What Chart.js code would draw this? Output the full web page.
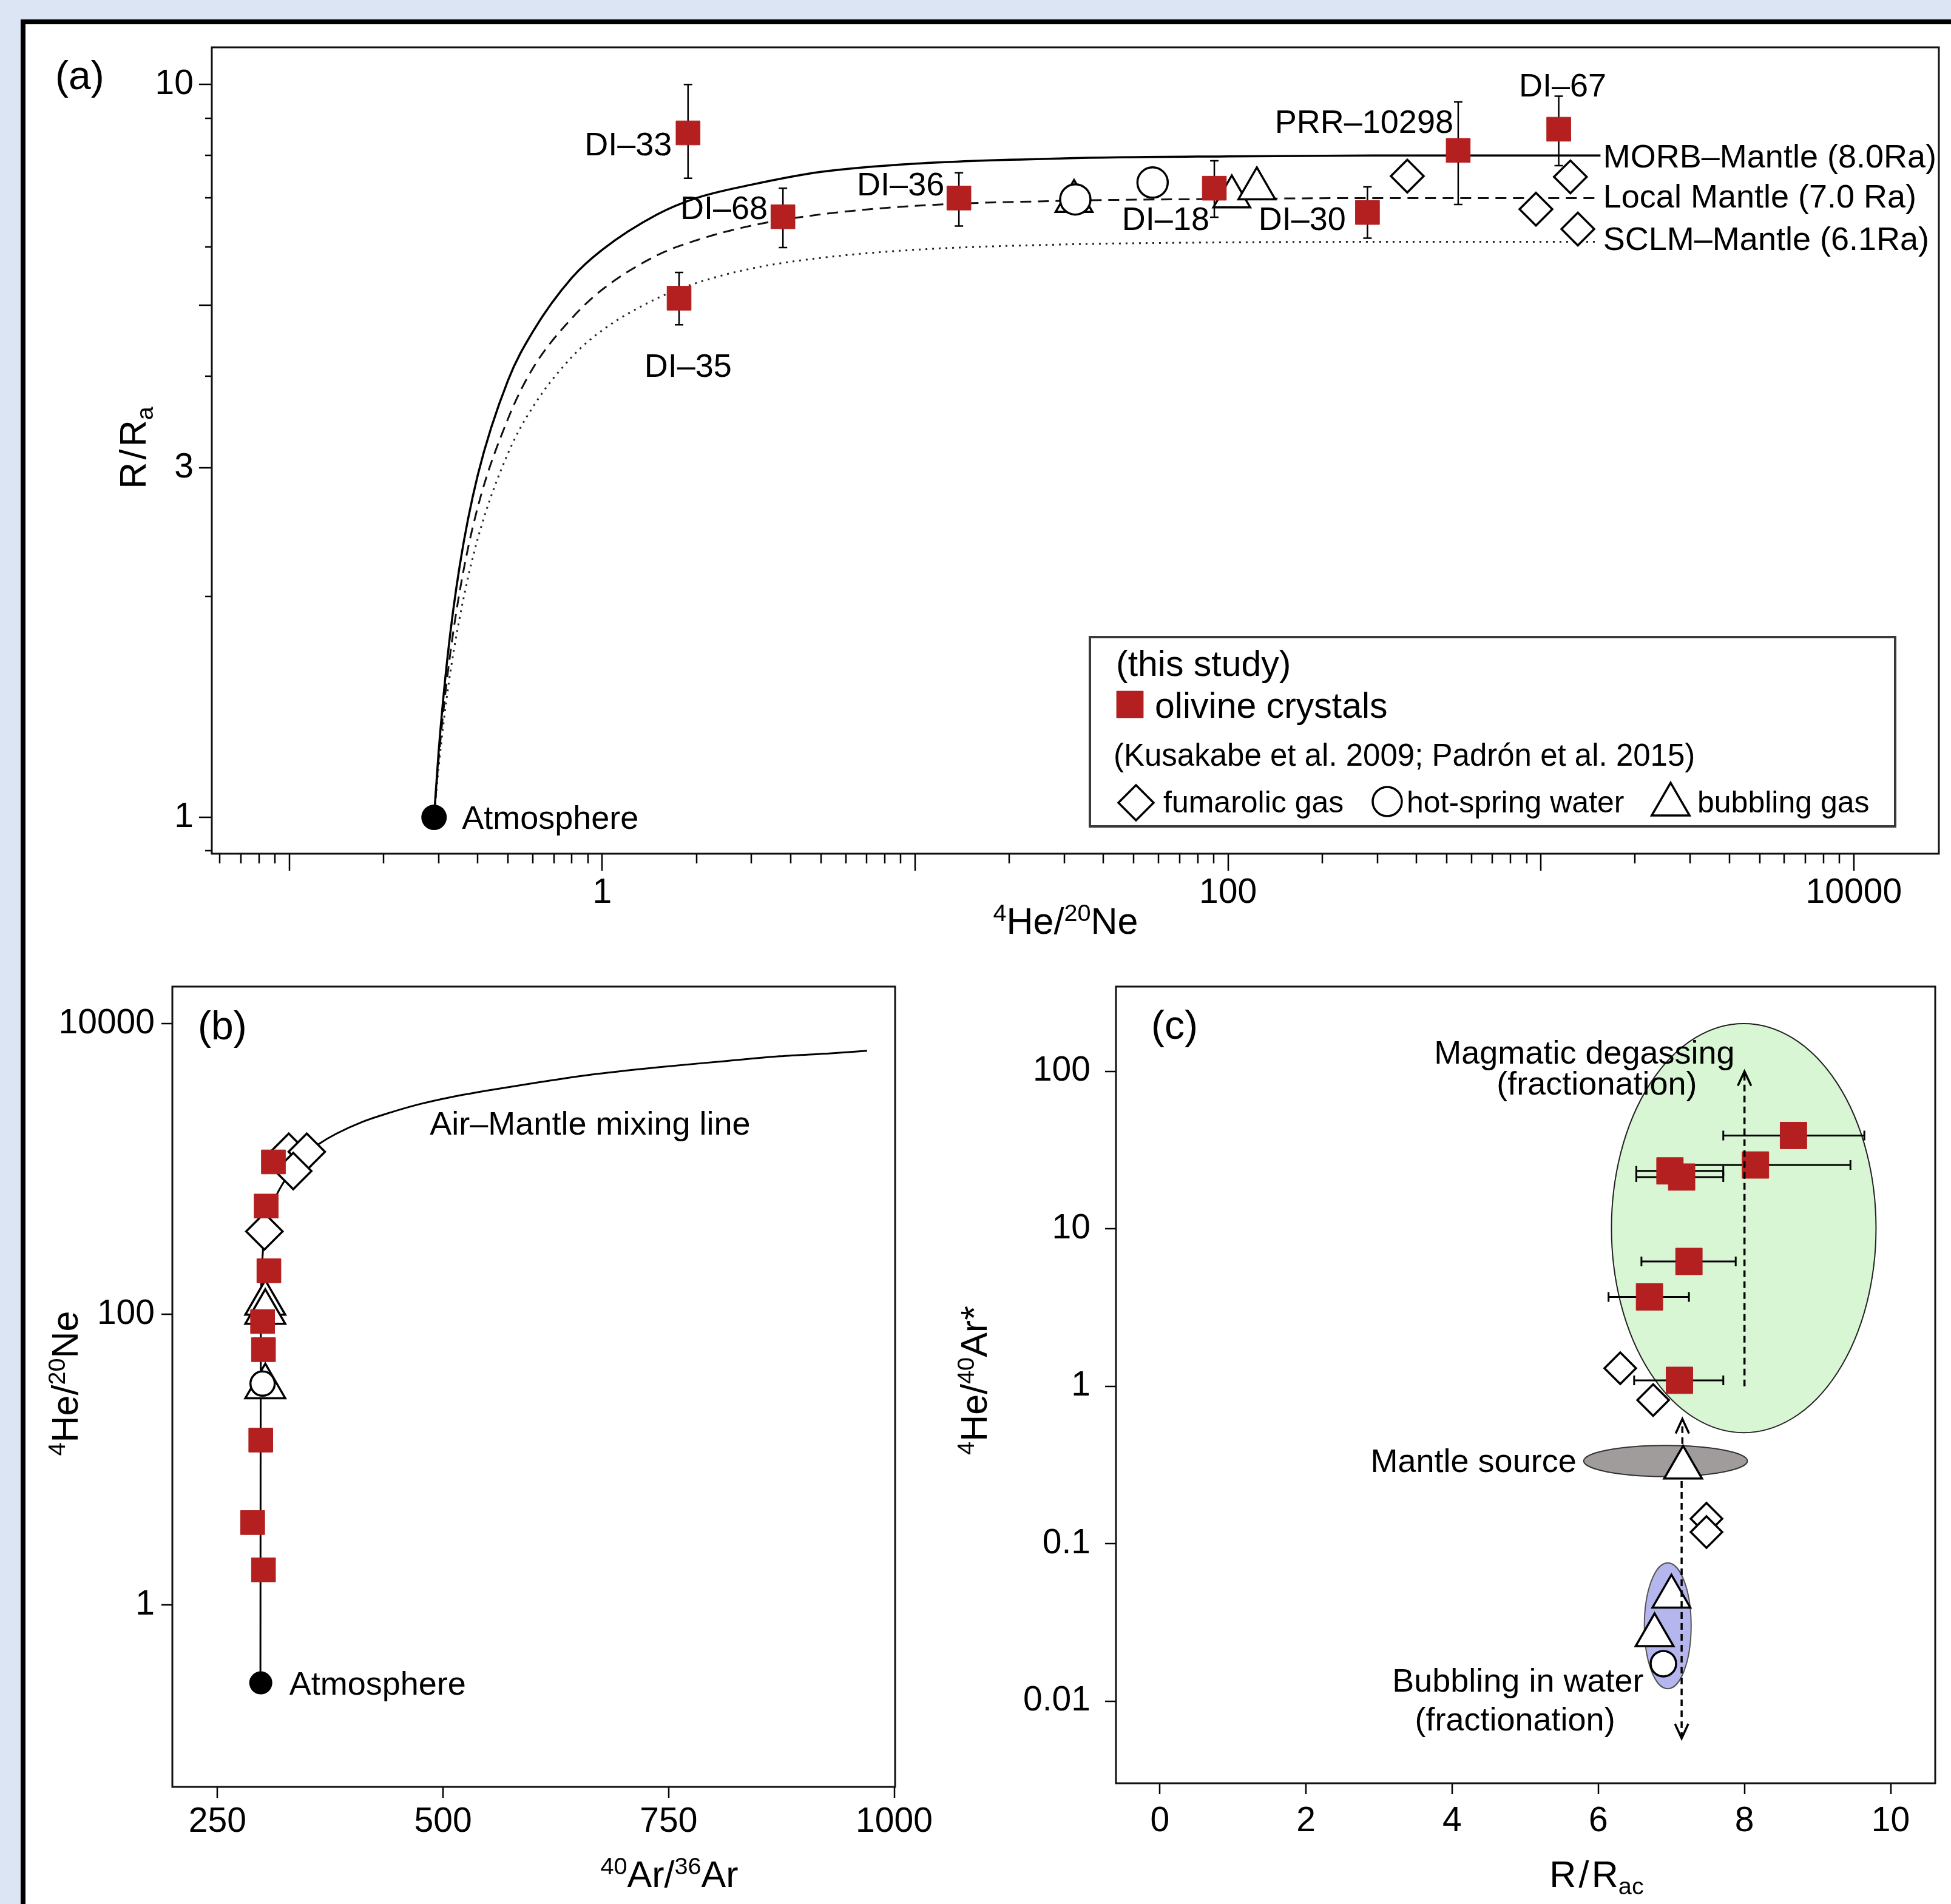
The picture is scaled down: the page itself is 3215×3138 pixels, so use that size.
<!DOCTYPE html>
<html><head><meta charset="utf-8">
<script src="https://cdn.jsdelivr.net/npm/chart.js@4/dist/chart.umd.min.js"></script>
<style>
html,body{margin:0;padding:0;background:#dce5f4;width:3215px;height:3138px;overflow:hidden;}
#frame{position:absolute;left:34px;top:32px;width:3300px;height:3300px;background:#fff;border-left:8px solid #000;border-top:8px solid #000;}
canvas{position:absolute;}
</style></head><body>
<div id="frame"></div>
<canvas id="ca" width="3175" height="1560" style="left:40px;top:40px;width:3175px;height:1560px"></canvas>
<canvas id="cb" width="1520" height="1538" style="left:40px;top:1600px;width:1520px;height:1538px"></canvas>
<canvas id="cc" width="1655" height="1538" style="left:1560px;top:1600px;width:1655px;height:1538px"></canvas>
<script>
// ================= DATA =================
// ---- Panel (a): 4He/20Ne vs R/Ra ----
const olivineA_heNe = [1.88, 3.78, 1.76, 13.8, 90.4, 279, 544, 1140];
const olivineA_ra   = [8.59, 6.60, 5.11, 7.00, 7.22, 6.69, 8.13, 8.69];
const olivineA_lo   = [7.45, 5.99, 4.70, 6.41, 6.59, 6.17, 6.86, 7.75];
const olivineA_hi   = [10.0, 7.22, 5.54, 7.58, 7.87, 7.25, 9.47, 9.64];
const olivineA_names = ['DI–33', 'DI–68', 'DI–35', 'DI–36', 'DI–18', 'DI–30', 'PRR–10298', 'DI–67'];
const fumarolicA_heNe = [374, 1242, 964, 1312];
const fumarolicA_ra   = [7.50, 7.48, 6.76, 6.35];
const hotspringA_heNe = [32.5, 57.4];
const hotspringA_ra   = [6.97, 7.35];
const bubblingA_heNe  = [32.2, 102.8, 123.6];
const bubblingA_ra    = [6.93, 7.03, 7.21];
const atmosphere_heNe = 0.29, atmosphere_ra = 1, atmosphere_arAr = 298;
// mixing curves
const mixA_heNe   = [0.29, 0.30, 0.32, 0.35, 0.40, 0.50, 0.60, 0.80, 1.0, 1.5, 2, 3, 5, 10, 30, 100, 300, 1550];
const morbA_ra    = [1.0, 1.23, 1.65, 2.2, 2.93, 3.95, 4.6, 5.45, 5.95, 6.65, 7.0, 7.3, 7.6, 7.8, 7.93, 7.98, 8.0, 8.0];
const localA_ra   = [1.0, 1.2, 1.56, 2.03, 2.65, 3.5, 4.1, 4.8, 5.25, 5.85, 6.13, 6.42, 6.65, 6.83, 6.94, 6.98, 7.0, 7.0];
const sclmA_heNe  = [0.29, 0.30, 0.32, 0.35, 0.40, 0.50, 0.60, 0.80, 1.0, 1.5, 2, 3, 5, 10, 30, 100, 300, 1500];
const sclmA_ra    = [1.0, 1.17, 1.48, 1.87, 2.4, 3.14, 3.63, 4.25, 4.62, 5.11, 5.36, 5.61, 5.8, 5.95, 6.05, 6.09, 6.1, 6.1];
const xTickLabelsA = [1, 100, 10000];
const yTickLabelsA = [1, 3, 10];

// ---- Panel (b): 40Ar/36Ar vs 4He/20Ne ----
const olivineB_arAr = [312, 304, 307, 300, 301, 298, 289, 301];
const olivineB_heNe = [1117, 555, 199, 89, 57, 13.6, 3.68, 1.74];
const fumarolicB_arAr = [329, 349, 334, 302];
const fumarolicB_heNe = [1313, 1313, 967, 371];
const hotspringB_arAr = [300];
const hotspringB_heNe = [33.3];
const bubblingB_arAr = [303, 303, 303];
const bubblingB_heNe = [119, 103, 31.7];
const mixB_arAr = [297.6, 297.8, 298.1, 299, 300, 302.5, 308, 316, 328, 342, 362, 382, 410, 442, 475, 508, 560, 607, 670, 740, 810, 873, 930, 970];
const mixB_heNe = [0.29, 10, 100, 180, 250, 380, 520, 672, 900, 1194, 1480, 1750, 2100, 2448, 2800, 3112, 3550, 3953, 4500, 5020, 5500, 5960, 6250, 6500];
const xTickLabelsB = [250, 500, 750, 1000];
const yTickLabelsB = [1, 100, 10000];

// ---- Panel (c): R/Rac vs 4He/40Ar* ----
const olivineC_rac  = [8.67, 8.15, 6.98, 7.14, 7.24, 6.70, 7.11];
const olivineC_heAr = [39.1, 25.4, 23.3, 21.3, 6.2, 3.69, 1.09];
const olivineC_lo   = [7.71, 6.85, 6.52, 6.52, 6.59, 6.14, 6.49];
const olivineC_hi   = [9.64, 9.45, 7.71, 7.71, 7.88, 7.24, 7.71];
const fumarolicC_rac  = [6.30, 6.75, 7.48, 7.48];
const fumarolicC_heAr = [1.30, 0.817, 0.144, 0.1186];
const bubblingC_rac  = [7.16, 7.00, 6.77];
const bubblingC_heAr = [0.304, 0.0461, 0.0262];
const hotspringC_rac  = [6.89];
const hotspringC_heAr = [0.0173];
const magmaticField_rac = [6.18, 9.80], magmaticField_heAr = [0.507, 201];
const mantleSource_rac  = [5.80, 8.04], mantleSource_heAr  = [0.267, 0.421];
const bubblingField_rac = [6.63, 7.27], bubblingField_heAr = [0.01198, 0.0756];
const arrowsC_rac  = [8.0, 7.15, 7.14];
const arrowsC_from = [1.0, 0.43, 0.25];
const arrowsC_to   = [100, 0.62, 0.0058];
const xTickLabelsC = [0, 2, 4, 6, 8, 10];
const yTickLabelsC = [0.01, 0.1, 1, 10, 100];

// ================= HELPERS =================
const FONT = '"Liberation Sans", Arial, Helvetica, sans-serif';
const RED = '#b41f1f';
const pts = (xs, ys) => xs.map((x, i) => ({x: x, y: ys[i]}));

function drawRich(ctx, parts, x, y, size, align, rot) {
  ctx.save(); ctx.translate(x, y); if (rot) ctx.rotate(rot);
  const items = parts.map(p => typeof p === 'string' ? {t: p} : p);
  let total = 0;
  const ws = items.map(p => {
    if (p.gap) { total += p.gap * size; return p.gap * size; }
    const fs = (p.sup || p.sub) ? size * 0.65 : size;
    ctx.font = fs + 'px ' + FONT;
    const w = ctx.measureText(p.t).width; total += w; return w;
  });
  let cx = align === 'center' ? -total / 2 : align === 'right' ? -total : 0;
  ctx.fillStyle = '#000'; ctx.textBaseline = 'alphabetic'; ctx.textAlign = 'left';
  const base = size * 0.358;
  items.forEach((p, i) => {
    if (!p.gap) {
      const fs = (p.sup || p.sub) ? size * 0.65 : size;
      ctx.font = fs + 'px ' + FONT;
      const dy = p.sup ? -size * 0.34 : p.sub ? size * 0.2 : 0;
      ctx.fillText(p.t, cx, base + dy);
    }
    cx += ws[i];
  });
  ctx.restore();
}

function drawMarker(ctx, style, x, y, r, fill, stroke, lw) {
  ctx.save(); ctx.beginPath();
  if (style === 'rect') { const h = r * Math.SQRT1_2; ctx.rect(x - h, y - h, 2 * h, 2 * h); }
  else if (style === 'rectRot') { ctx.moveTo(x - r, y); ctx.lineTo(x, y - r); ctx.lineTo(x + r, y); ctx.lineTo(x, y + r); ctx.closePath(); }
  else if (style === 'circle') { ctx.arc(x, y, r, 0, Math.PI * 2); }
  else if (style === 'triangle') {
    ctx.moveTo(x, y - r);
    ctx.lineTo(x + r * Math.sin(2 * Math.PI / 3), y - r * Math.cos(2 * Math.PI / 3));
    ctx.lineTo(x + r * Math.sin(4 * Math.PI / 3), y - r * Math.cos(4 * Math.PI / 3));
    ctx.closePath();
  }
  if (fill) { ctx.fillStyle = fill; ctx.fill(); }
  if (stroke) { ctx.lineWidth = lw; ctx.strokeStyle = stroke; ctx.stroke(); }
  ctx.restore();
}

function logTickMarks(min, max, majorLen, minorLen) {
  const out = [];
  for (let e = -3; e <= 5; e++) for (let k = 1; k <= 9; k++) {
    const v = k * Math.pow(10, e);
    if (v >= min && v <= max) out.push([v, k === 1 ? majorLen : minorLen]);
  }
  return out;
}

// ================= LAYOUT / DECOR =================
const PI2 = Math.PI / 2;
const DECOR = {
  ca: {
    xTicks: logTickMarks(0.0565, 18700, 28, 16),
    yTicks: [[0.9, 11], [1, 21], [2, 11], [3, 21], [4, 11], [5, 21], [6, 11], [7, 11], [8, 11], [9, 11], [10, 21]],
    dataTexts: [
      {t: olivineA_names[0], x: 1.67, y: 8.31, a: 'right'},
      {t: olivineA_names[1], x: 3.38, y: 6.80, a: 'right'},
      {t: olivineA_names[2], x: 1.88, y: 4.14, a: 'center'},
      {t: olivineA_names[3], x: 12.4, y: 7.32, a: 'right'},
      {t: olivineA_names[4], x: 87.2, y: 6.57, a: 'right'},
      {t: olivineA_names[5], x: 238, y: 6.57, a: 'right'},
      {t: olivineA_names[6], x: 525, y: 8.91, a: 'right'},
      {t: olivineA_names[7], x: 1173, y: 9.99, a: 'center'},
      {t: 'MORB–Mantle (8.0Ra)', x: 1581, y: 7.99, a: 'left'},
      {t: 'Local Mantle (7.0 Ra)', x: 1581, y: 7.05, a: 'left'},
      {t: 'SCLM–Mantle (6.1Ra)', x: 1581, y: 6.17, a: 'left'},
      {t: 'Atmosphere', x: 0.356, y: 1, a: 'left'}
    ],
    fixedTexts: [
      {p: ['(a)'], x: 51, y: 83, s: 66, a: 'left'},
      {p: [{t: '4', sup: 1}, 'He/', {t: '20', sup: 1}, 'Ne'], x: 1716, y: 1477, s: 61, a: 'center'},
      {p: ['R', {gap: 0.07}, '/', {gap: 0.07}, 'R', {t: 'a', sub: 1}], x: 178, y: 698, s: 61, a: 'center', r: -PI2}
    ],
    legend: true
  },
  cb: {
    xTicks: [[250, 18], [500, 18], [750, 18], [1000, 18]],
    yTicks: [[1, 18], [100, 18], [10000, 18]],
    dataTexts: [
      {t: 'Air–Mantle mixing line', x: 663, y: 2066, a: 'center'},
      {t: 'Atmosphere', x: 329.6, y: 0.29, a: 'left'}
    ],
    fixedTexts: [
      {p: ['(b)'], x: 286, y: 89, s: 66, a: 'left'},
      {p: [{t: '40', sup: 1}, 'Ar/', {t: '36', sup: 1}, 'Ar'], x: 1063, y: 1488, s: 61, a: 'center'},
      {p: [{t: '4', sup: 1}, 'He/', {t: '20', sup: 1}, 'Ne'], x: 66, y: 680, s: 61, a: 'center', r: -PI2}
    ]
  },
  cc: {
    xTicks: xTickLabelsC.map(v => [v, 18]),
    yTicks: yTickLabelsC.map(v => [v, 18]),
    ellipses: [
      {xr: magmaticField_rac, yr: magmaticField_heAr, fill: '#d8f6d4', stroke: '#222', lw: 2},
      {xr: mantleSource_rac, yr: mantleSource_heAr, fill: '#a09c9c', stroke: '#333', lw: 2},
      {xr: bubblingField_rac, yr: bubblingField_heAr, fill: '#b6b6ef', stroke: '#555', lw: 2}
    ],
    arrows: true,
    dataTexts: [
      {t: 'Magmatic degassing', x: 5.81, y: 133, a: 'center'},
      {t: '(fractionation)', x: 5.98, y: 84.2, a: 'center'},
      {t: 'Mantle source', x: 5.70, y: 0.338, a: 'right'},
      {t: 'Bubbling in water', x: 4.90, y: 0.01368, a: 'center'},
      {t: '(fractionation)', x: 4.86, y: 0.0077, a: 'center'}
    ],
    fixedTexts: [
      {p: ['(c)'], x: 337, y: 88, s: 66, a: 'left'},
      {p: ['R', {gap: 0.07}, '/', {gap: 0.07}, 'R', {t: 'ac', sub: 1}], x: 1071, y: 1488, s: 61, a: 'center'},
      {p: [{t: '4', sup: 1}, 'He/', {t: '40', sup: 1}, 'Ar*'], x: 44, y: 675, s: 61, a: 'center', r: -PI2}
    ]
  }
};

function drawLegendA(ctx) {
  ctx.save();
  ctx.fillStyle = '#fff'; ctx.fillRect(1756, 1010, 1327, 312);
  ctx.lineWidth = 4; ctx.strokeStyle = '#3a3a3a'; ctx.strokeRect(1756, 1010, 1327, 312);
  ctx.restore();
  drawRich(ctx, ['(this study)'], 1799, 1053, 59, 'left');
  drawMarker(ctx, 'rect', 1822, 1121, 31, RED, RED, 1);
  drawRich(ctx, ['olivine crystals'], 1863, 1122, 59, 'left');
  drawRich(ctx, ['(Kusakabe et al. 2009; Padrón et al. 2015)'], 1795, 1204, 51, 'left');
  drawMarker(ctx, 'rectRot', 1832, 1283, 29, '#fff', '#000', 3.5);
  drawRich(ctx, ['fumarolic gas'], 1877, 1281, 50, 'left');
  drawMarker(ctx, 'circle', 2246, 1281, 24, '#fff', '#000', 3.5);
  drawRich(ctx, ['hot-spring water'], 2278, 1281, 50, 'left');
  drawMarker(ctx, 'triangle', 2713, 1286, 36, '#fff', '#000', 3.5);
  drawRich(ctx, ['bubbling gas'], 2757, 1281, 50, 'left');
}

function drawArrow(ctx, x, y0, y1) {
  ctx.save();
  ctx.strokeStyle = '#000'; ctx.lineWidth = 3.5;
  ctx.setLineDash([11, 7]);
  ctx.beginPath(); ctx.moveTo(x, y0); ctx.lineTo(x, y1); ctx.stroke();
  ctx.setLineDash([]);
  const dir = y1 < y0 ? 1 : -1;
  ctx.beginPath(); ctx.moveTo(x - 11, y1 + dir * 24); ctx.lineTo(x, y1); ctx.lineTo(x + 11, y1 + dir * 24); ctx.stroke();
  ctx.restore();
}

const decorPlugin = {
  id: 'decor',
  beforeDatasetsDraw(chart) {
    const d = DECOR[chart.canvas.id]; if (!d || !d.ellipses) return;
    const ctx = chart.ctx, x = chart.scales.x, y = chart.scales.y;
    d.ellipses.forEach(e => {
      const x0 = x.getPixelForValue(e.xr[0]), x1 = x.getPixelForValue(e.xr[1]);
      const y0 = y.getPixelForValue(e.yr[0]), y1 = y.getPixelForValue(e.yr[1]);
      ctx.save(); ctx.beginPath();
      ctx.ellipse((x0 + x1) / 2, (y0 + y1) / 2, Math.abs(x1 - x0) / 2, Math.abs(y1 - y0) / 2, 0, 0, Math.PI * 2);
      ctx.fillStyle = e.fill; ctx.fill(); ctx.lineWidth = e.lw; ctx.strokeStyle = e.stroke; ctx.stroke();
      ctx.restore();
    });
  },
  beforeDatasetDraw(chart, args) {
    const ds = chart.data.datasets[args.index];
    if (!ds.errLo) return;
    const ctx = chart.ctx, x = chart.scales.x, y = chart.scales.y;
    ctx.save(); ctx.strokeStyle = '#000';
    ds.data.forEach((p, i) => {
      if (ds.errLo[i] == null) return;
      if (ds.errDir === 'y') {
        const px = x.getPixelForValue(p.x), lo = y.getPixelForValue(ds.errLo[i]), hi = y.getPixelForValue(ds.errHi[i]);
        ctx.lineWidth = 2.5;
        ctx.beginPath(); ctx.moveTo(px, lo); ctx.lineTo(px, hi);
        ctx.moveTo(px - 7, lo); ctx.lineTo(px + 7, lo); ctx.moveTo(px - 7, hi); ctx.lineTo(px + 7, hi); ctx.stroke();
      } else {
        const py = y.getPixelForValue(p.y), lo = x.getPixelForValue(ds.errLo[i]), hi = x.getPixelForValue(ds.errHi[i]);
        ctx.lineWidth = 3;
        ctx.beginPath(); ctx.moveTo(lo, py); ctx.lineTo(hi, py);
        ctx.moveTo(lo, py - 8); ctx.lineTo(lo, py + 8); ctx.moveTo(hi, py - 8); ctx.lineTo(hi, py + 8); ctx.stroke();
      }
    });
    ctx.restore();
  },
  afterDatasetsDraw(chart) {
    const d = DECOR[chart.canvas.id]; if (!d) return;
    const ctx = chart.ctx, a = chart.chartArea, x = chart.scales.x, y = chart.scales.y;
    if (d.arrows) {
      arrowsC_rac.forEach((r, i) => drawArrow(ctx, x.getPixelForValue(r), y.getPixelForValue(arrowsC_from[i]), y.getPixelForValue(arrowsC_to[i])));
    }
    ctx.save();
    ctx.strokeStyle = '#000'; ctx.lineWidth = 2.5;
    ctx.beginPath();
    d.xTicks.forEach(t => { const px = Math.round(x.getPixelForValue(t[0])); ctx.moveTo(px, a.bottom); ctx.lineTo(px, a.bottom + t[1]); });
    d.yTicks.forEach(t => { const py = Math.round(y.getPixelForValue(t[0])); ctx.moveTo(a.left, py); ctx.lineTo(a.left - t[1], py); });
    ctx.stroke();
    ctx.lineWidth = 3; ctx.strokeStyle = '#111';
    ctx.strokeRect(a.left, a.top, a.right - a.left, a.bottom - a.top);
    ctx.restore();
    (d.dataTexts || []).forEach(t => drawRich(ctx, [t.t], x.getPixelForValue(t.x), y.getPixelForValue(t.y), 54, t.a));
    if (d.legend) drawLegendA(ctx);
    (d.fixedTexts || []).forEach(t => drawRich(ctx, t.p, t.x, t.y, t.s, t.a, t.r));
  }
};

function fixTicks(vals) { return s => { s.ticks = vals.map(v => ({value: v})); }; }
function fixSize(w, h) {
  return s => {
    if (w != null) s.width = w;
    if (h != null) s.height = h;
    s.paddingTop = 0; s.paddingBottom = 0; s.paddingLeft = 0; s.paddingRight = 0;
  };
}
function axis(type, min, max, labels, pad, w, h) {
  return {
    type: type, min: min, max: max,
    grid: {display: false, drawTicks: false}, border: {display: false},
    ticks: {font: {family: FONT, size: 57}, color: '#000', padding: pad, autoSkip: false, maxRotation: 0, minRotation: 0,
            callback: v => String(v)},
    afterBuildTicks: fixTicks(labels),
    afterFit: fixSize(w, h)
  };
}
function baseOptions(padding, xAxis, yAxis) {
  return {
    responsive: false, animation: false, devicePixelRatio: 1, events: [],
    layout: {padding: padding, autoPadding: false},
    plugins: {legend: {display: false}, tooltip: {enabled: false}},
    scales: {x: xAxis, y: yAxis}
  };
}
const openMarker = (data, style, r, order) => ({data: data, pointStyle: style, pointRadius: r, backgroundColor: '#fff', borderColor: '#000', borderWidth: 3.5, order: order});

// ================= CHART (a) =================
new Chart(document.getElementById('ca'), {
  type: 'scatter',
  data: {datasets: [
    {label: 'olivine crystals', data: pts(olivineA_heNe, olivineA_ra), pointStyle: 'rect', pointRadius: 28,
     backgroundColor: RED, borderColor: RED, borderWidth: 1, order: 0, errLo: olivineA_lo, errHi: olivineA_hi, errDir: 'y'},
    Object.assign({label: 'hot-spring water'}, openMarker(pts(hotspringA_heNe, hotspringA_ra), 'circle', 25, 1)),
    Object.assign({label: 'bubbling gas'}, openMarker(pts(bubblingA_heNe, bubblingA_ra), 'triangle', 35, 2)),
    Object.assign({label: 'fumarolic gas'}, openMarker(pts(fumarolicA_heNe, fumarolicA_ra), 'rectRot', 27, 3)),
    {label: 'Atmosphere', data: [{x: atmosphere_heNe, y: atmosphere_ra}], pointStyle: 'circle', pointRadius: 21,
     backgroundColor: '#000', borderColor: '#000', borderWidth: 0, order: 4},
    {label: 'MORB-Mantle', data: pts(mixA_heNe, morbA_ra), showLine: true, pointRadius: 0, borderColor: '#000',
     borderWidth: 3.5, cubicInterpolationMode: 'monotone', order: 10},
    {label: 'Local Mantle', data: pts(mixA_heNe, localA_ra), showLine: true, pointRadius: 0, borderColor: '#111',
     borderWidth: 3, borderDash: [18, 11], cubicInterpolationMode: 'monotone', order: 11},
    {label: 'SCLM-Mantle', data: pts(sclmA_heNe, sclmA_ra), showLine: true, pointRadius: 0, borderColor: '#222',
     borderWidth: 3, borderDash: [3, 8], cubicInterpolationMode: 'monotone', order: 12}
  ]},
  options: baseOptions({left: 0, top: 38, right: 20, bottom: 0},
    axis('logarithmic', 0.0565, 18700, xTickLabelsA, 31, null, 193),
    axis('logarithmic', 0.892, 11.24, yTickLabelsA, 30, 309, null)),
  plugins: [decorPlugin]
});

// ================= CHART (b) =================
new Chart(document.getElementById('cb'), {
  type: 'scatter',
  data: {datasets: [
    {label: 'olivine crystals', data: pts(olivineB_arAr, olivineB_heNe), pointStyle: 'rect', pointRadius: 28,
     backgroundColor: RED, borderColor: RED, borderWidth: 1, order: 0},
    Object.assign({label: 'hot-spring water'}, openMarker(pts(hotspringB_arAr, hotspringB_heNe), 'circle', 20, 1)),
    Object.assign({label: 'bubbling gas'}, openMarker(pts(bubblingB_arAr, bubblingB_heNe), 'triangle', 38, 2)),
    Object.assign({label: 'fumarolic gas'}, openMarker(pts(fumarolicB_arAr, fumarolicB_heNe), 'rectRot', 30, 3)),
    {label: 'Atmosphere', data: [{x: atmosphere_arAr, y: atmosphere_heNe}], pointStyle: 'circle', pointRadius: 19,
     backgroundColor: '#000', borderColor: '#000', borderWidth: 0, order: 4},
    {label: 'Air-Mantle mixing line', data: pts(mixB_arAr, mixB_heNe), showLine: true, pointRadius: 0,
     borderColor: '#000', borderWidth: 3, cubicInterpolationMode: 'monotone', order: 10}
  ]},
  options: baseOptions({left: 0, top: 26, right: 85, bottom: 0},
    axis('linear', 200, 1001, xTickLabelsB, 24, null, 193),
    axis('logarithmic', 0.0558, 17980, yTickLabelsB, 29, 244, null)),
  plugins: [decorPlugin]
});

// ================= CHART (c) =================
new Chart(document.getElementById('cc'), {
  type: 'scatter',
  data: {datasets: [
    {label: 'olivine crystals', data: pts(olivineC_rac, olivineC_heAr), pointStyle: 'rect', pointRadius: 31,
     backgroundColor: RED, borderColor: RED, borderWidth: 1, order: 0, errLo: olivineC_lo, errHi: olivineC_hi, errDir: 'x'},
    Object.assign({label: 'fumarolic gas'}, openMarker(pts(fumarolicC_rac, fumarolicC_heAr), 'rectRot', 26, 1)),
    Object.assign({label: 'bubbling gas'}, openMarker(pts(bubblingC_rac, bubblingC_heAr), 'triangle', 36, 2)),
    Object.assign({label: 'hot-spring water'}, openMarker(pts(hotspringC_rac, hotspringC_heAr), 'circle', 21, 3))
  ]},
  options: baseOptions({left: 0, top: 26, right: 26, bottom: 0},
    axis('linear', -0.6, 10.61, xTickLabelsC, 29, null, 199),
    axis('logarithmic', 0.00301, 345, yTickLabelsC, 42, 279, null)),
  plugins: [decorPlugin]
});
</script>
</body></html>
